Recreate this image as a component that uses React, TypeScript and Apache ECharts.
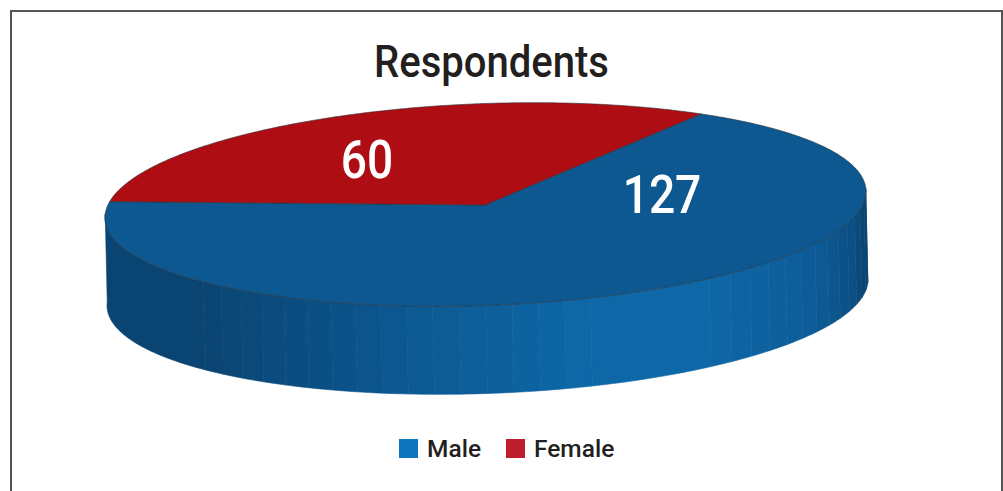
import React, { useEffect, useRef } from "react";
import * as echarts from "echarts";

const titleText = "Respondents";
const categories = ["Male", "Female"];
const values = [127, 60];

const FONT = 'Roboto, "Liberation Sans", sans-serif';
const cx = 485.5, cy = 204.5, rx = 380.5, ry = 101, shear = 13;
const apex = [485, 205];
const depth = 88, drift = 2;
const FEMALE_START = 189; // parametric degrees, clockwise on screen
const topColors = ["#0d5890", "#ae0d13"];
const legendColors = ["#0f75bc", "#be1e2d"];
const labelPos = [[662, 195], [367, 160]];

const pt = (deg: number, dx = 0, dy = 0): number[] => {
  const t = (deg * Math.PI) / 180;
  return [cx + rx * Math.cos(t) + dx, cy + ry * Math.sin(t) - shear * Math.cos(t) + dy];
};

const shadeStops: [number, number[]][] = [
  [105, [10, 68, 114]],
  [205, [10, 68, 114]],
  [400, [12, 88, 145]],
  [590, [14, 104, 167]],
  [700, [14, 104, 167]],
  [810, [13, 92, 153]],
  [850, [12, 80, 133]],
  [868, [10, 64, 106]],
];
const shade = (x: number) => {
  for (let i = 1; i < shadeStops.length; i++) {
    const [x0, c0] = shadeStops[i - 1];
    const [x1, c1] = shadeStops[i];
    if (x <= x1) {
      const f = Math.max(0, (x - x0) / (x1 - x0));
      return `rgb(${c0.map((c, k) => Math.round(c + (c1[k] - c) * f)).join(",")})`;
    }
  }
  return "rgb(10,64,106)";
};

function sliceRange(index: number): [number, number] {
  const total = values.reduce((a, b) => a + b, 0);
  const femaleSweep = (values[1] / total) * 360;
  return index === 1
    ? [FEMALE_START, FEMALE_START + femaleSweep]
    : [FEMALE_START + femaleSweep, FEMALE_START + 360];
}

function wallBands() {
  const step = 4;
  const bands: { from: number; to: number; col: string }[] = [];
  for (let a = -2; a < 182; a += step) {
    const col = shade(pt(a + step / 2)[0]);
    const last = bands[bands.length - 1];
    if (last && last.col === col) last.to = a + step;
    else bands.push({ from: a, to: a + step, col });
  }
  return bands;
}

function renderSlice(index: number) {
  return () => {
    const children: any[] = [];
    if (index === 0) {
      wallBands().forEach(({ from, to, col }) => {
        const pts: number[][] = [];
        for (let b = from; b <= to + 0.01; b += 1) pts.push(pt(b));
        for (let b = to; b >= from - 0.01; b -= 1) pts.push(pt(b, drift, depth));
        children.push({
          type: "polygon",
          silent: true,
          shape: { points: pts },
          style: { fill: col, stroke: col, lineWidth: 0.6 },
        });
      });
    }
    const [s, e] = sliceRange(index);
    const pts: number[][] = [apex];
    for (let a = s; a < e; a += 0.5) pts.push(pt(a));
    pts.push(pt(e));
    children.push({
      type: "polygon",
      silent: true,
      shape: { points: pts },
      style: { fill: topColors[index], stroke: "#2b3238", lineWidth: 0.6 },
    });
    children.push({
      type: "text",
      silent: true,
      z2: 10,
      x: labelPos[index][0],
      y: labelPos[index][1],
      scaleX: 0.87,
      style: {
        text: String(values[index]),
        x: 0,
        y: 0,
        fill: "#ffffff",
        font: `500 53px ${FONT}`,
        align: "center",
        verticalAlign: "middle",
      },
    });
    return { type: "group", children };
  };
}

export default function App() {
  const ref = useRef<HTMLDivElement>(null);
  useEffect(() => {
    const chart = echarts.init(ref.current!, null, { renderer: "svg" });
    chart.setOption({
      animation: false,
      backgroundColor: "#ffffff",
      legend: {
        left: 394,
        top: 431,
        icon: "rect",
        itemWidth: 19,
        itemHeight: 19,
        itemGap: 25,
        selectedMode: false,
        data: categories.map((name, i) => ({ name, itemStyle: { color: legendColors[i] } })),
        textStyle: { fontFamily: FONT, fontSize: 24.5, fontWeight: 500, color: "#231f20", padding: [0, 0, 0, 4] },
      },
      graphic: [
        {
          type: "rect",
          silent: true,
          z: -1,
          shape: { x: 11, y: 11, width: 991, height: 500 },
          style: { fill: "#ffffff", stroke: "#555555", lineWidth: 2 },
        },
        {
          type: "text",
          silent: true,
          x: 491.5,
          y: 61,
          scaleX: 0.89,
          style: {
            text: titleText,
            x: 0,
            y: 0,
            fill: "#231f20",
            font: `500 45px ${FONT}`,
            align: "center",
            verticalAlign: "middle",
          },
        },
      ],
      series: categories.map((name, i) => ({
        type: "custom",
        name,
        coordinateSystem: "none",
        z: 2 + i,
        data: [values[i]],
        itemStyle: { color: legendColors[i] },
        renderItem: renderSlice(i),
      })),
    });
    return () => chart.dispose();
  }, []);
  return <div ref={ref} style={{ position: "absolute", left: 0, top: 0, width: 1003, height: 491 }} />;
}
